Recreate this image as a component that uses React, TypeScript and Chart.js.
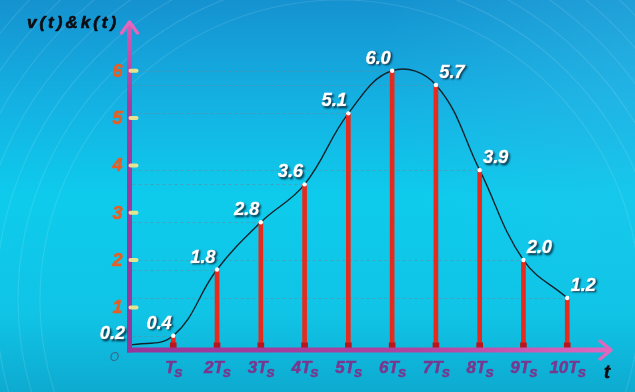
import { useEffect, useRef } from 'react';
import { Chart, registerables } from 'chart.js';

Chart.register(...registerables);

// ---- data ----
const sampleIndex = [1, 2, 3, 4, 5, 6, 7, 8, 9, 10];
const sampleValues = [0.4, 1.8, 2.8, 3.6, 5.1, 6.0, 5.7, 3.9, 2.0, 1.2];
const curveX = [0, 1, 2, 3, 4, 5, 6, 7, 8, 9, 10];
const curveValues = [0.2, 0.4, 1.8, 2.8, 3.6, 5.1, 6.0, 5.7, 3.9, 2.0, 1.2];
const valueLabels = ['0.4', '1.8', '2.8', '3.6', '5.1', '6.0', '5.7', '3.9', '2.0', '1.2'];
const labelSide = ['L', 'L', 'L', 'L', 'L', 'L', 'R', 'R', 'R', 'R'];
const startLabel = '0.2';
const yTicks = [1, 2, 3, 4, 5, 6];
const xTickMain = ['T', '2T', '3T', '4T', '5T', '6T', '7T', '8T', '9T', '10T'];
const xTickSub = 's';
const yTitle = 'v(t)&k(t)';
const xTitle = 't';
const originLabel = 'O';

const AXIS_MIN = 0.1;
const Y_MAX = 7.03;
const X_MAX = 11;

const FONT = '"Liberation Sans", Arial, sans-serif';

function heavyText(ctx: any, text: string, x: number, y: number, w: number) {
  ctx.lineWidth = w;
  ctx.lineJoin = 'round';
  ctx.strokeStyle = ctx.fillStyle;
  ctx.strokeText(text, x, y);
  ctx.fillText(text, x, y);
}

const bgPlugin = {
  id: 'bg',
  beforeDraw(chart: any) {
    const { ctx, width, height } = chart;
    ctx.save();
    const g = ctx.createLinearGradient(0, 0, 0, height);
    g.addColorStop(0, '#1592d0');
    g.addColorStop(0.25, '#14b0e2');
    g.addColorStop(0.5, '#0ecbec');
    g.addColorStop(0.8, '#10c4e6');
    g.addColorStop(1, '#0eaad0');
    ctx.fillStyle = g;
    ctx.fillRect(0, 0, width, height);
    const r2 = ctx.createRadialGradient(640, 60, 10, 640, 60, 260);
    r2.addColorStop(0, 'rgba(60,190,235,0.35)');
    r2.addColorStop(1, 'rgba(60,190,235,0)');
    ctx.fillStyle = r2;
    ctx.fillRect(0, 0, width, height);
    ctx.strokeStyle = 'rgba(255,255,255,0.11)';
    ctx.lineWidth = 1.2;
    for (let r = 300; r <= 520; r += 22) {
      ctx.beginPath();
      ctx.arc(340, 300, r, 0, Math.PI * 2);
      ctx.stroke();
    }
    ctx.restore();
  },
};

const overlayPlugin = {
  id: 'overlay',
  beforeDatasetsDraw(chart: any) {
    const { ctx, scales } = chart;
    const xs = scales.x;
    const ys = scales.y;
    ctx.save();
    ctx.strokeStyle = 'rgba(105,135,150,0.55)';
    ctx.lineWidth = 1;
    ctx.setLineDash([3, 3]);
    const x0 = xs.getPixelForValue(0) + 3;
    sampleIndex.forEach((xv, i) => {
      const py = Math.round(ys.getPixelForValue(sampleValues[i])) + 0.5;
      ctx.beginPath();
      ctx.moveTo(x0, py);
      ctx.lineTo(xs.getPixelForValue(xv), py);
      ctx.stroke();
    });
    ctx.restore();
  },
  afterDatasetsDraw(chart: any) {
    const { ctx, scales } = chart;
    const xs = scales.x;
    const ys = scales.y;
    const ax = xs.getPixelForValue(0);
    const ay = ys.getPixelForValue(AXIS_MIN);
    const top = ys.getPixelForValue(Y_MAX);
    const right = xs.getPixelForValue(X_MAX);
    ctx.save();

    let g = ctx.createLinearGradient(0, ay, 0, top);
    g.addColorStop(0, '#96369a');
    g.addColorStop(0.75, '#a63c9e');
    g.addColorStop(1, '#d85cb4');
    ctx.strokeStyle = g;
    ctx.lineWidth = 5;
    ctx.lineCap = 'butt';
    ctx.beginPath();
    ctx.moveTo(ax, ay + 2.5);
    ctx.lineTo(ax, top + 2);
    ctx.stroke();
    g = ctx.createLinearGradient(ax, 0, right, 0);
    g.addColorStop(0, '#96369a');
    g.addColorStop(0.6, '#b0449f');
    g.addColorStop(1, '#e068c0');
    ctx.strokeStyle = g;
    ctx.beginPath();
    ctx.moveTo(ax - 2.5, ay);
    ctx.lineTo(right - 2, ay);
    ctx.stroke();
    ctx.strokeStyle = '#e466bc';
    ctx.lineWidth = 3.5;
    ctx.lineCap = 'round';
    ctx.lineJoin = 'round';
    ctx.beginPath();
    ctx.moveTo(ax - 8, top + 11);
    ctx.lineTo(ax, top);
    ctx.lineTo(ax + 8, top + 11);
    ctx.stroke();
    ctx.beginPath();
    ctx.moveTo(right - 11, ay - 9);
    ctx.lineTo(right, ay);
    ctx.lineTo(right - 11, ay + 9);
    ctx.stroke();

    ctx.textBaseline = 'middle';
    yTicks.forEach((v) => {
      const py = ys.getPixelForValue(v);
      ctx.fillStyle = 'rgba(240,230,140,0.95)';
      ctx.beginPath();
      ctx.roundRect(ax - 1, py - 2, 10, 4, 2);
      ctx.fill();
      ctx.fillStyle = '#e85e22';
      ctx.font = `italic bold 18px ${FONT}`;
      ctx.textAlign = 'right';
      heavyText(ctx, String(v), ax - 7, py + 1, 0.6);
    });

    ctx.textBaseline = 'alphabetic';
    ctx.textAlign = 'left';
    sampleIndex.forEach((xv, i) => {
      const px = xs.getPixelForValue(xv);
      const mainFont = `italic bold 17px ${FONT}`;
      const subFont = `italic bold 15px ${FONT}`;
      ctx.font = mainFont;
      const w1 = ctx.measureText(xTickMain[i]).width;
      ctx.font = subFont;
      const w2 = ctx.measureText(xTickSub).width;
      const sx = px - (w1 + w2) / 2 + 1;
      ctx.fillStyle = '#7a368e';
      ctx.font = mainFont;
      heavyText(ctx, xTickMain[i], sx, ay + 23, 0.5);
      ctx.font = subFont;
      heavyText(ctx, xTickSub, sx + w1 - 1, ay + 27, 0.5);
    });

    ctx.fillStyle = '#3a6688';
    ctx.font = `italic 12px ${FONT}`;
    ctx.textAlign = 'center';
    ctx.textBaseline = 'middle';
    ctx.fillText(originLabel, ax - 15, ay + 8);

    ctx.fillStyle = '#0c0c10';
    ctx.font = `italic bold 18px ${FONT}`;
    heavyText(ctx, xTitle, right - 4, ay + 23, 0.6);

    ctx.font = `italic bold 17px ${FONT}`;
    ctx.textAlign = 'left';
    let tx = 27;
    for (const ch of yTitle) {
      heavyText(ctx, ch, tx, 23, 0.6);
      tx += ctx.measureText(ch).width + 3;
    }

    ctx.font = `italic bold 18px ${FONT}`;
    ctx.textAlign = 'center';
    ctx.textBaseline = 'middle';
    ctx.shadowColor = 'rgba(0,25,45,0.75)';
    ctx.shadowBlur = 2;
    ctx.shadowOffsetX = 1.5;
    ctx.shadowOffsetY = 1.5;
    ctx.fillStyle = '#ffffff';
    sampleIndex.forEach((xv, i) => {
      const px = xs.getPixelForValue(xv);
      const py = ys.getPixelForValue(sampleValues[i]);
      const dx = labelSide[i] === 'L' ? -14 : 16;
      heavyText(ctx, valueLabels[i], px + dx, py - 12, 0.6);
    });
    const sy = ys.getPixelForValue(curveValues[0]);
    heavyText(ctx, startLabel, ax - 17, sy - 11, 0.6);
    ctx.restore();
  },
};

export default function App() {
  const ref = useRef<HTMLCanvasElement | null>(null);
  useEffect(() => {
    if (!ref.current) return;
    const chart = new Chart(ref.current, {
      type: 'scatter',
      data: {
        datasets: [
          {
            type: 'line',
            data: curveX.map((x, i) => ({ x, y: curveValues[i] })),
            borderColor: '#12232b',
            borderWidth: 1.4,
            pointRadius: 0,
            tension: 0.4,
            fill: false,
            order: 4,
          } as any,
          {
            type: 'bar',
            data: sampleIndex.map((x, i) => ({ x, y: [AXIS_MIN, sampleValues[i]] })),
            backgroundColor: '#e62a1c',
            barThickness: 4,
            grouped: false,
            order: 3,
          } as any,
          {
            type: 'bar',
            data: sampleIndex.map((x) => ({ x, y: [AXIS_MIN, AXIS_MIN + 0.15] })),
            backgroundColor: '#b8161c',
            barThickness: 6,
            grouped: false,
            order: 2,
          } as any,
          {
            type: 'scatter',
            data: sampleIndex.map((x, i) => ({ x, y: sampleValues[i] })),
            pointRadius: 2.2,
            backgroundColor: '#ffffff',
            borderWidth: 0,
            order: 1,
          } as any,
        ],
      },
      options: {
        animation: false,
        responsive: false,
        maintainAspectRatio: false,
        layout: { padding: { left: 129.5, right: 24, top: 22, bottom: 42 } },
        scales: {
          x: { type: 'linear', min: 0, max: X_MAX, display: false, offset: false },
          y: { type: 'linear', min: AXIS_MIN, max: Y_MAX, display: false },
        },
        plugins: { legend: { display: false }, tooltip: { enabled: false } },
      },
      plugins: [bgPlugin, overlayPlugin],
    });
    return () => chart.destroy();
  }, []);
  return (
    <div style={{ position: 'fixed', left: 0, top: 0, width: 635, height: 392 }}>
      <canvas ref={ref} width={635} height={392} style={{ display: 'block' }} />
    </div>
  );
}
